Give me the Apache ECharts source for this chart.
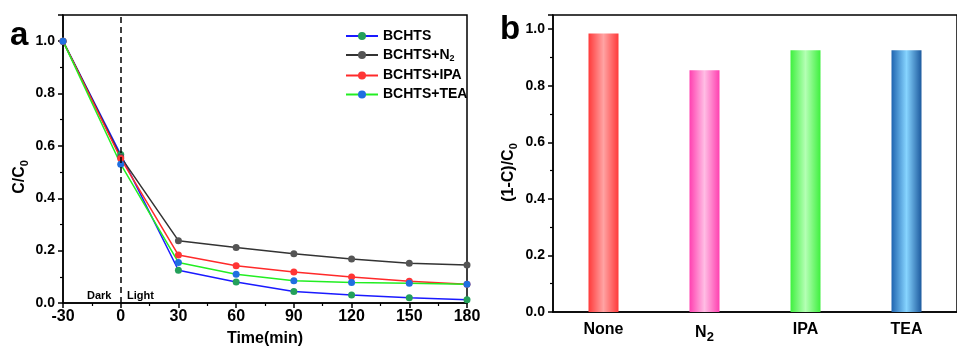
<!DOCTYPE html>
<html>
<head>
<meta charset="utf-8">
<script src="https://cdn.jsdelivr.net/npm/echarts@6/dist/echarts.min.js"></script>
<style>
html,body{margin:0;padding:0;background:#fff;}
#main{width:957px;height:352px;}
</style>
</head>
<body>
<div id="main"></div>
<script>
// panel a: C/C0 over time
var times = [-30, 0, 30, 60, 90, 120, 150, 180];
var bchts    = [1.0, 0.567, 0.125, 0.080, 0.044, 0.031, 0.020, 0.012];
var bchtsN2  = [1.0, 0.558, 0.238, 0.212, 0.188, 0.168, 0.152, 0.145];
var bchtsIPA = [1.0, 0.552, 0.183, 0.142, 0.118, 0.099, 0.083, 0.072];
var bchtsTEA = [1.0, 0.530, 0.155, 0.110, 0.085, 0.078, 0.075, 0.072];

// panel b: (1-C)/C0 per scavenger
var scavengers = ['None', 'N2', 'IPA', 'TEA'];
var removal = [0.985, 0.855, 0.925, 0.925];

var FONT = 'Arial, "Liberation Sans", sans-serif';

function pairs(vals){
	var out = [];
	for (var i = 0; i < times.length; i++) out.push([times[i], vals[i]]);
	return out;
}

function lineSeries(name, vals, lineColor, dotColor){
	return {
		name: name,
		type: 'line',
		xAxisIndex: 0,
		yAxisIndex: 0,
		data: pairs(vals),
		symbol: 'circle',
		symbolSize: 7,
		lineStyle: {color: lineColor, width: 1.5},
		itemStyle: {color: dotColor},
		z: 3
	};
}

function barGrad(edge, mid, edge2){
	return new echarts.graphic.LinearGradient(0, 0, 1, 0, [
		{offset: 0, color: edge},
		{offset: 0.5, color: mid},
		{offset: 1, color: edge2 || edge}
	]);
}
var barColors = [
	barGrad('#ff3a3a', '#ffa3a3'),
	barGrad('#ff40b0', '#ffbde4'),
	barGrad('#3ff03f', '#b4ffb4'),
	barGrad('#1f64b0', '#86d4ff', '#1d5a9e')
];

var tickNum = {fontFamily: FONT, fontWeight: 'bold', color: '#000'};
function fmt02(v){
	return Math.abs(v * 5 - Math.round(v * 5)) < 1e-6 ? v.toFixed(1) : '';
}
var nameRich = {
	m: {fontFamily: FONT, fontWeight: 'bold', fontSize: 16, color: '#000'},
	s: {fontFamily: FONT, fontWeight: 'bold', fontSize: 11, color: '#000', padding: [9, 0, 0, 0]}
};

var s1 = lineSeries('BCHTS', bchts, '#1a1aff', '#23a05a');
// dark / light divider
s1.markLine = {
	silent: true,
	symbol: ['none', 'none'],
	label: {show: false},
	lineStyle: {color: '#000', type: [6, 4], width: 1.5},
	data: [{xAxis: 0}]
};

var dom = document.getElementById('main');
var myChart = echarts.init(dom);
var option = {
	animation: false,
	textStyle: {fontFamily: FONT},
	grid: [
		{left: 63, right: 490, top: 15, bottom: 47, show: true, borderColor: '#000', borderWidth: 1.5},
		{left: 553, right: -8, top: 15, bottom: 40, show: true, borderColor: '#000', borderWidth: 1.5}
	],
	legend: {
		orient: 'vertical',
		left: 340,
		top: 24,
		itemWidth: 32,
		itemHeight: 10,
		itemGap: 5,
		data: ['BCHTS', 'BCHTS+N2', 'BCHTS+IPA', 'BCHTS+TEA'],
		formatter: function(n){
			return n === 'BCHTS+N2' ? '{m|BCHTS+N}{s|2}' : '{m|' + n + '}';
		},
		textStyle: {
			fontFamily: FONT,
			rich: {
				m: {fontFamily: FONT, fontWeight: 'bold', fontSize: 14, color: '#000'},
				s: {fontFamily: FONT, fontWeight: 'bold', fontSize: 9, color: '#000', padding: [8, 0, 0, 0]}
			}
		}
	},
	xAxis: [
		{
			type: 'value', gridIndex: 0, min: -30, max: 180, interval: 30,
			name: 'Time(min)', nameLocation: 'middle', nameGap: 28,
			nameTextStyle: {fontFamily: FONT, fontWeight: 'bold', fontSize: 16, color: '#000'},
			axisLine: {onZero: false, lineStyle: {color: '#000', width: 1.5}},
			axisTick: {length: 5, lineStyle: {color: '#000', width: 1.5}},
			minorTick: {show: true, splitNumber: 2, length: 3, lineStyle: {color: '#000', width: 1.2}},
			splitLine: {show: false},
			axisLabel: Object.assign({fontSize: 16, margin: 6}, tickNum)
		},
		{
			type: 'category', gridIndex: 1, data: scavengers, boundaryGap: true,
			axisLine: {onZero: false, lineStyle: {color: '#000', width: 1.5}},
			axisTick: {length: 4, lineStyle: {color: '#000', width: 1.5}},
			axisLabel: {
				margin: 10,
				formatter: function(v){ return v === 'N2' ? '{m|N}{s|2}' : '{m|' + v + '}'; },
				rich: {
					m: {fontFamily: FONT, fontWeight: 'bold', fontSize: 16, color: '#000'},
					s: {fontFamily: FONT, fontWeight: 'bold', fontSize: 13, color: '#000', padding: [9, 0, 0, 0]}
				}
			}
		},
		{
			type: 'category', gridIndex: 1, data: scavengers, boundaryGap: true, position: 'bottom',
			axisLine: {show: false, onZero: false},
			axisTick: {alignWithLabel: true, length: 4, lineStyle: {color: '#000', width: 1.5}},
			axisLabel: {show: false}
		}
	],
	yAxis: [
		{
			type: 'value', gridIndex: 0, min: 0, max: 1.1, interval: 0.2,
			name: '{m|C/C}{s|0}', nameLocation: 'middle', nameGap: 33,
			nameTextStyle: {rich: nameRich, padding: [0, 36, 0, 0]},
			axisLine: {show: true, onZero: false, lineStyle: {color: '#000', width: 1.5}},
			axisTick: {show: true, length: 5, lineStyle: {color: '#000', width: 1.5}},
			minorTick: {show: true, splitNumber: 2, length: 3, lineStyle: {color: '#000', width: 1.2}},
			splitLine: {show: false},
			axisLabel: Object.assign({fontSize: 14, margin: 8, formatter: fmt02}, tickNum)
		},
		{
			type: 'value', gridIndex: 1, min: 0, max: 1.05, interval: 0.2,
			name: '{m|(1-C)/C}{s|0}', nameLocation: 'middle', nameGap: 34,
			nameTextStyle: {rich: nameRich, padding: [0, 18, 0, 0]},
			axisLine: {show: true, onZero: false, lineStyle: {color: '#000', width: 1.5}},
			axisTick: {show: true, length: 5, lineStyle: {color: '#000', width: 1.5}},
			minorTick: {show: true, splitNumber: 2, length: 3, lineStyle: {color: '#000', width: 1.2}},
			splitLine: {show: false},
			axisLabel: Object.assign({fontSize: 14, margin: 8, formatter: fmt02}, tickNum)
		}
	],
	series: [
		s1,
		lineSeries('BCHTS+N2', bchtsN2, '#333333', '#555555'),
		lineSeries('BCHTS+IPA', bchtsIPA, '#ff2a2a', '#ff3535'),
		lineSeries('BCHTS+TEA', bchtsTEA, '#22ee22', '#1f6fe0'),
		{
			name: 'removal',
			type: 'bar',
			xAxisIndex: 1,
			yAxisIndex: 1,
			barWidth: 30,
			data: removal.map(function(v, i){
				return {value: v, itemStyle: {color: barColors[i]}};
			})
		}
	],
	graphic: [
		{type: 'text', left: 10, top: 19, style: {text: 'a', fontFamily: FONT, fontWeight: 'bold', fontSize: 33, fill: '#000'}},
		{type: 'text', left: 500, top: 13, style: {text: 'b', fontFamily: FONT, fontWeight: 'bold', fontSize: 33, fill: '#000'}},
		{type: 'text', left: 87, top: 290, style: {text: 'Dark', fontFamily: FONT, fontWeight: 'bold', fontSize: 11, fill: '#000'}},
		{type: 'text', left: 127, top: 290, style: {text: 'Light', fontFamily: FONT, fontWeight: 'bold', fontSize: 11, fill: '#000'}}
	]
};
if (option && typeof option === "object") {
	myChart.setOption(option, true);
}
</script>
</body>
</html>
